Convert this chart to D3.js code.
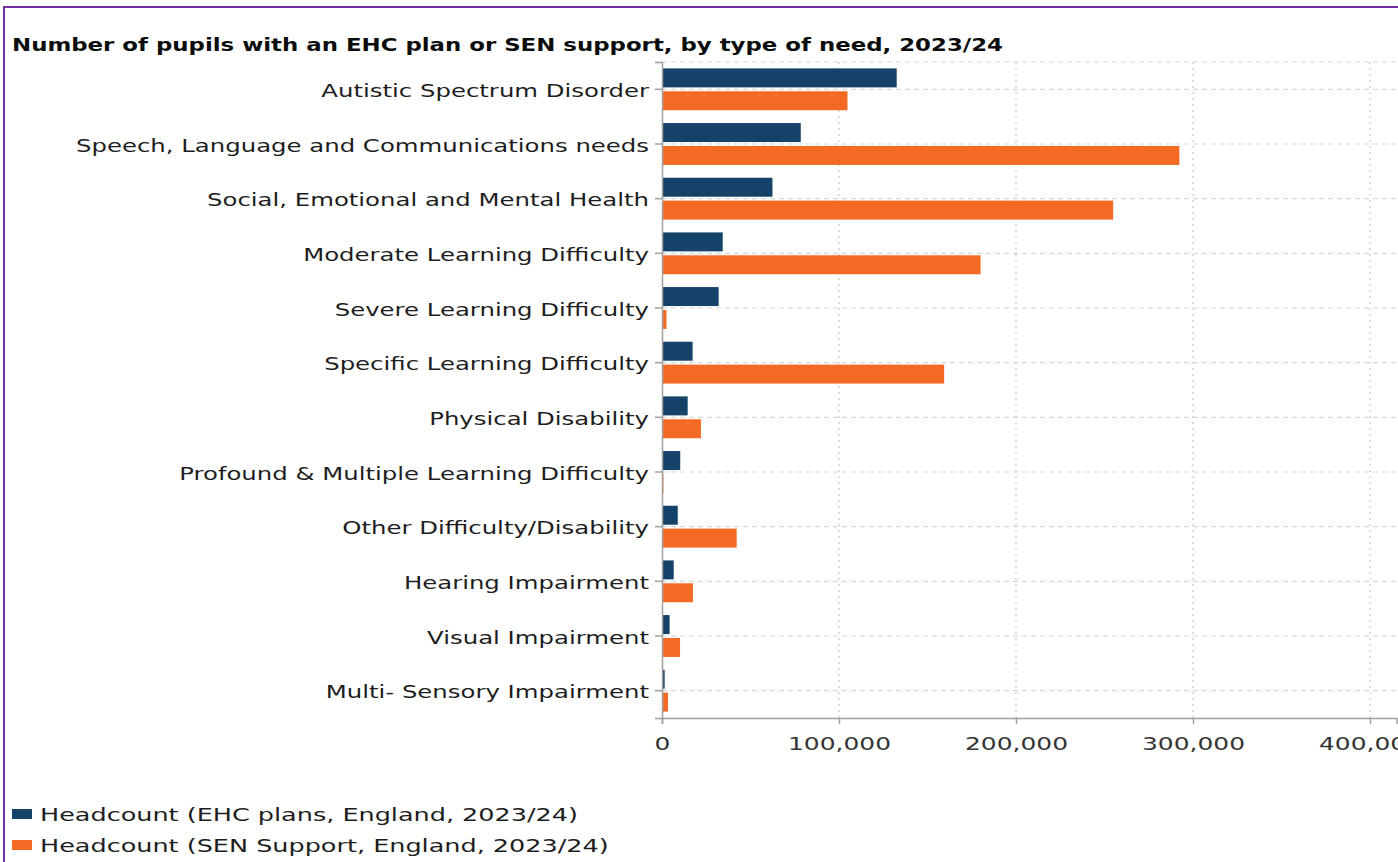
<!DOCTYPE html>
<html>
<head>
<meta charset="utf-8">
<script src="https://cdn.jsdelivr.net/npm/d3@7"></script>
<style>
  html, body { margin: 0; padding: 0; background: #fff; }
  svg { display: block; font-family: "DejaVu Sans", sans-serif; }
</style>
</head>
<body>
<div class="bar"></div>
<script>
const categories = [
  "Autistic Spectrum Disorder",
  "Speech, Language and Communications needs",
  "Social, Emotional and Mental Health",
  "Moderate Learning Difficulty",
  "Severe Learning Difficulty",
  "Specific Learning Difficulty",
  "Physical Disability",
  "Profound & Multiple Learning Difficulty",
  "Other Difficulty/Disability",
  "Hearing Impairment",
  "Visual Impairment",
  "Multi- Sensory Impairment"
]
const ehcPlans = [132600, 78400, 62400, 34300, 32000, 17300, 14500, 10300, 8900, 6600, 4300, 1500]
const senSupport = [104800, 292300, 254900, 180000, 2500, 159400, 22000, 800, 42200, 17500, 10200, 3400]
const seriesNames = ["Headcount (EHC plans, England, 2023/24)", "Headcount (SEN Support, England, 2023/24)"]
const tickValues = [0, 100000, 200000, 300000, 400000]

const W = 1398, H = 862
const colors = ["#144268", "#f46a25"]
const textColor = "#1d1d1d"
const plotLeft = 662, plotTop = 62, plotBottom = 718

// the source font is wide, so text is stretched sideways to match
function stretch(sel, refNode, refWidth) {
  const k = refWidth / refNode.getComputedTextLength()
  sel.each(function() {
    const w = this.getComputedTextLength()
    d3.select(this).attr("textLength", w * k).attr("lengthAdjust", "spacingAndGlyphs")
  })
}

const svg = d3.select(".bar").append("svg")
  .attr("width", W).attr("height", H)

// purple frame
svg.append("rect")
  .attr("x", 4).attr("y", 7)
  .attr("width", W + 20).attr("height", H + 20)
  .attr("fill", "none").attr("stroke", "#7030a0").attr("stroke-width", 2)

const title = svg.append("text")
  .attr("x", 12).attr("y", 51)
  .attr("font-size", 18).attr("font-weight", "bold")
  .attr("fill", "#0b0c0c")
  .text("Number of pupils with an EHC plan or SEN support, by type of need, 2023/24")
stretch(title, title.node(), 991)

const xScale = d3.scaleLinear().domain([0, 415000]).range([plotLeft, plotLeft + 1.77 * 415])
const yScale = d3.scaleBand().domain(categories).range([plotTop, plotBottom])
const inner = d3.scaleBand().domain([0, 1]).range([0, yScale.bandwidth()]).paddingInner(0.17).paddingOuter(0.28)

const rows = categories.map((c, i) => ({c, vals: [ehcPlans[i], senSupport[i]]}))

// grid lines
svg.append("g").selectAll("line.h")
  .data([plotTop].concat(categories.map(c => yScale(c) + yScale.bandwidth() / 2)))
  .enter().append("line")
  .attr("x1", plotLeft).attr("x2", W)
  .attr("y1", d => d).attr("y2", d => d)
  .attr("stroke", "#d6d6d6").attr("stroke-width", 1.2).attr("stroke-dasharray", "5,4")

svg.append("g").selectAll("line.v")
  .data(tickValues.slice(1))
  .enter().append("line")
  .attr("x1", d => xScale(d)).attr("x2", d => xScale(d))
  .attr("y1", plotTop).attr("y2", plotBottom)
  .attr("stroke", "#d6d6d6").attr("stroke-width", 1.6).attr("stroke-dasharray", "2,4")

// bars
const groups = svg.append("g").selectAll("g")
  .data(rows).enter().append("g")
  .attr("transform", d => `translate(0,${yScale(d.c)})`)

groups.selectAll("rect")
  .data(d => d.vals)
  .enter().append("rect")
  .attr("x", xScale(0))
  .attr("y", (d, i) => inner(i))
  .attr("width", d => xScale(d) - xScale(0))
  .attr("height", inner.bandwidth())
  .attr("fill", (d, i) => colors[i])

// axes
const xAxis = d3.axisBottom(xScale).tickValues(tickValues).tickSize(6).tickPadding(13)
  .tickFormat(d3.format(","))
const yAxis = d3.axisLeft(yScale).tickSize(7).tickPadding(6)

const gx = svg.append("g").attr("transform", `translate(0,${plotBottom})`).call(xAxis)
const gy = svg.append("g").attr("transform", `translate(${plotLeft},0)`).call(yAxis)

gx.select(".domain").attr("stroke", "#a0a0a0").attr("stroke-width", 1.5)
gy.select(".domain").attr("stroke", "#a0a0a0").attr("stroke-width", 1.5)
gx.selectAll(".tick line").attr("stroke", "#a0a0a0").attr("stroke-width", 1.5)
gy.selectAll(".tick line").attr("stroke", "#a0a0a0").attr("stroke-width", 1.5)

const xLabels = gx.selectAll("text").attr("font-size", 18).attr("fill", "#333")
  .attr("font-family", "DejaVu Sans, sans-serif")
stretch(xLabels, xLabels.nodes()[1], 103)

const yLabels = gy.selectAll("text").attr("font-size", 18).attr("fill", textColor)
  .attr("font-family", "DejaVu Sans, sans-serif").attr("dy", "0.43em")
stretch(yLabels, yLabels.nodes()[1], 573)

// legend
const legend = svg.append("g").selectAll("g")
  .data(seriesNames).enter().append("g")
  .attr("transform", (d, i) => `translate(12,${809 + i * 31})`)
legend.append("rect").attr("width", 20).attr("height", 10).attr("fill", (d, i) => colors[i])
const legendText = legend.append("text").attr("x", 28).attr("y", 12)
  .attr("font-size", 18).attr("fill", textColor).text(d => d)
stretch(legendText, legendText.nodes()[0], 538)
</script>
</body>
</html>
